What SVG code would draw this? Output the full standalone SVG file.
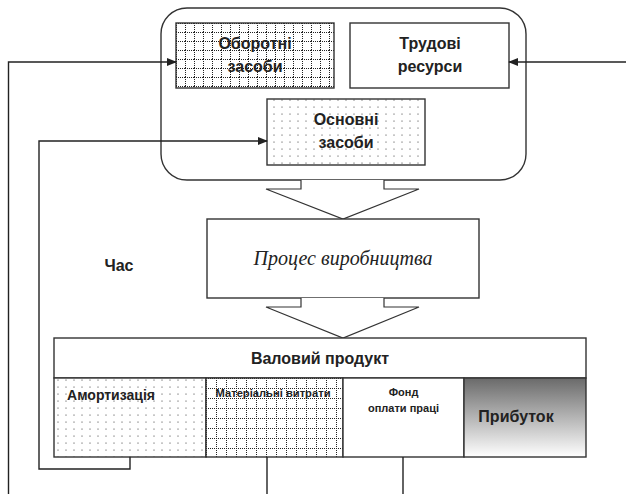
<svg xmlns="http://www.w3.org/2000/svg" width="626" height="494" viewBox="0 0 626 494">
<defs>
<pattern id="grid9" width="9" height="9" patternUnits="userSpaceOnUse" x="176" y="23">
<rect width="9" height="9" fill="#fff"/>
<path d="M0,0.5 H9 M0.5,0 V9" stroke="#222" stroke-width="1" stroke-dasharray="1,1" fill="none"/>
</pattern>
<pattern id="grid10" width="10" height="10" patternUnits="userSpaceOnUse" x="206" y="378">
<rect width="10" height="10" fill="#fff"/>
<path d="M0,0.5 H10 M0.5,0 V10" stroke="#222" stroke-width="1" stroke-dasharray="1,1" fill="none"/>
</pattern>
<pattern id="dots" width="8" height="7" patternUnits="userSpaceOnUse">
<rect width="8" height="7" fill="#fff"/>
<circle cx="2" cy="2" r="0.55" fill="#222"/>
</pattern>
<linearGradient id="grad" x1="0" y1="0" x2="0" y2="1">
<stop offset="0" stop-color="#6a6a6a"/>
<stop offset="1" stop-color="#ffffff"/>
</linearGradient>
<marker id="arr" markerWidth="10" markerHeight="8" refX="9" refY="4" orient="auto" markerUnits="userSpaceOnUse">
<path d="M0,0 L10,4 L0,8 Z" fill="#222"/>
</marker>
<style>
.box{stroke:#333;stroke-width:1.4}
.lbl{font-family:"Liberation Sans",Arial,sans-serif;font-weight:bold;fill:#222;text-anchor:middle}
.conn{fill:none;stroke:#222;stroke-width:1.4}
.barrow{fill:#fff;stroke:#333;stroke-width:1.2}
</style>
</defs>

<g id="resources">
<rect class="box" x="161" y="8" width="365" height="172" rx="26" ry="26" fill="#fff"/>
</g>

<g id="oborotni">
<rect class="box" x="176" y="23" width="158" height="65" fill="url(#grid9)"/>
<text class="lbl" font-size="16" x="255" y="49">Оборотні</text>
<text class="lbl" font-size="16" x="255" y="72">засоби</text>
</g>

<g id="trudovi">
<rect class="box" x="350" y="23" width="159" height="65" fill="#fff"/>
<text class="lbl" font-size="16" x="430" y="49">Трудові</text>
<text class="lbl" font-size="16" x="430" y="72">ресурси</text>
</g>

<g id="osnovni">
<rect class="box" x="267" y="99" width="158" height="66" fill="url(#dots)"/>
<text class="lbl" font-size="16" x="346" y="125">Основні</text>
<text class="lbl" font-size="16" x="346" y="148">засоби</text>
</g>

<g id="arrow1">
<path class="barrow" d="M301,180 V189 H266 L343,219 L419,189 H384 V180"/>
</g>

<g id="process">
<rect class="box" x="207" y="219" width="272" height="79" fill="#fff"/>
<text x="343" y="265" font-family="'Liberation Serif','Times New Roman',serif" font-style="italic" font-size="20" fill="#222" text-anchor="middle" textLength="179" lengthAdjust="spacingAndGlyphs">Процес виробництва</text>
</g>

<g id="chas">
<text class="lbl" font-size="16" x="119" y="271">Час</text>
</g>

<g id="arrow2">
<path class="barrow" d="M301,298 V307 H266 L343,338 L419,307 H384 V298"/>
</g>

<g id="valovyi">
<rect class="box" x="54" y="338" width="532" height="40" fill="#fff"/>
<text class="lbl" font-size="16" x="320" y="364">Валовий продукт</text>
</g>

<g id="amortyzatsiia">
<rect class="box" x="54" y="378" width="152" height="79" fill="url(#dots)"/>
<text class="lbl" font-size="14" x="111" y="400">Амортизація</text>
</g>

<g id="materialni">
<rect class="box" x="206" y="378" width="137" height="79" fill="url(#grid10)"/>
<text class="lbl" font-size="11" x="273" y="397" textLength="115" lengthAdjust="spacingAndGlyphs">Матеріальні витрати</text>
</g>

<g id="fond">
<rect class="box" x="343" y="378" width="121" height="79" fill="#fff"/>
<text class="lbl" font-size="11" x="403.5" y="396">Фонд</text>
<text class="lbl" font-size="11" x="403.5" y="412">оплати праці</text>
</g>

<g id="prybutok">
<rect class="box" x="464" y="378" width="122" height="79" fill="url(#grad)"/>
<text class="lbl" font-size="16" x="516" y="422">Прибуток</text>
</g>

<g id="connectors">
<path class="conn" d="M8.5,494 V62 H176" marker-end="url(#arr)"/>
<path class="conn" d="M130,457 V469 H39 V141 H267" marker-end="url(#arr)"/>
<path class="conn" d="M626,62 H509" marker-end="url(#arr)"/>
<path class="conn" d="M267,457 V494"/>
<path class="conn" d="M403,457 V494"/>
</g>
</svg>
